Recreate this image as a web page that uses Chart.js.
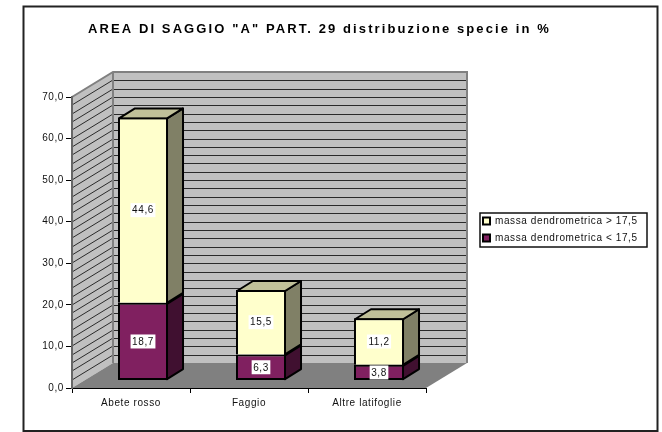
<!DOCTYPE html>
<html><head><meta charset="utf-8">
<style>html,body{margin:0;padding:0;background:#fff}canvas{display:block}</style>
<script src="https://cdn.jsdelivr.net/npm/chart.js@4/dist/chart.umd.min.js"></script>
</head><body><canvas id="c" width="662" height="432"></canvas>
<script>
const categories = ['Abete rosso', 'Faggio', 'Altre latifoglie'];
const seriesLow = [18.7, 6.3, 3.8];
const seriesHigh = [44.6, 15.5, 11.2];
const seriesNames = ['massa dendrometrica < 17,5', 'massa dendrometrica > 17,5'];
const titleText = 'AREA DI SAGGIO "A" PART. 29 distribuzione specie in %';
const comma = v => Number(v).toFixed(1).replace('.', ',');

const WALL = {dx: 41, dy: -25};
const BAR = {dx: 16, dy: -10, shiftX: 12, shiftY: -7.4};

const scene = {
  id: 'scene',
  beforeDraw(chart) {
    const {ctx, scales: {x, y}} = chart;
    ctx.letterSpacing = '0.6px';
    const L = x.left, R = x.right, B = y.bottom, T = y.top;
    ctx.save();
    ctx.fillStyle = '#fff'; ctx.fillRect(0, 0, 662, 432);
    ctx.strokeStyle = '#222'; ctx.lineWidth = 2;
    ctx.strokeRect(23.5, 6.5, 634, 424.5);
    // side wall
    ctx.fillStyle = '#C0C0C0';
    ctx.beginPath(); ctx.moveTo(L, T); ctx.lineTo(L + WALL.dx, T + WALL.dy); ctx.lineTo(L + WALL.dx, B + WALL.dy); ctx.lineTo(L, B); ctx.closePath(); ctx.fill();
    // back wall
    ctx.fillRect(L + WALL.dx, T + WALL.dy, R - L, B - T);
    // floor
    ctx.fillStyle = '#808080';
    ctx.beginPath(); ctx.moveTo(L, B); ctx.lineTo(R, B); ctx.lineTo(R + WALL.dx, B + WALL.dy); ctx.lineTo(L + WALL.dx, B + WALL.dy); ctx.closePath(); ctx.fill();
    // grid lines
    ctx.strokeStyle = '#2a2a2a'; ctx.lineWidth = 1;
    for (let v = 2; v < 70; v += 2) {
      const py = Math.round(y.getPixelForValue(v));
      ctx.beginPath();
      ctx.moveTo(L, py); ctx.lineTo(L + WALL.dx, py + WALL.dy);
      ctx.moveTo(L + WALL.dx, py + WALL.dy + .5); ctx.lineTo(R + WALL.dx, py + WALL.dy + .5);
      ctx.stroke();
    }
    // wall edges
    ctx.strokeStyle = '#808080'; ctx.lineWidth = 2;
    ctx.beginPath();
    ctx.moveTo(L, T); ctx.lineTo(L + WALL.dx, T + WALL.dy); ctx.lineTo(R + WALL.dx, T + WALL.dy); ctx.lineTo(R + WALL.dx, B + WALL.dy);
    ctx.moveTo(L + WALL.dx, T + WALL.dy); ctx.lineTo(L + WALL.dx, B + WALL.dy);
    ctx.stroke();
    // legend frame
    ctx.fillStyle = '#fff'; ctx.fillRect(480, 213, 167, 34);
    ctx.strokeStyle = '#111'; ctx.lineWidth = 1.5; ctx.strokeRect(480, 213, 167, 34);
    ctx.restore();
  },
  beforeDatasetsDraw(chart) {
    const {ctx} = chart;
    ctx.save();
    ctx.translate(BAR.shiftX, BAR.shiftY);
    ctx.strokeStyle = '#000'; ctx.lineWidth = 2; ctx.lineJoin = 'round';
    chart.data.datasets.forEach((ds, di) => {
      chart.getDatasetMeta(di).data.forEach(el => {
        const p = el.getProps(['x', 'y', 'base', 'width'], true);
        const r = p.x + p.width / 2 - 1, l = p.x - p.width / 2 + 1, ty = p.y + 1, by = p.base - (di === 0 ? 1 : 0);
        ctx.fillStyle = ds.sideColor;
        ctx.beginPath(); ctx.moveTo(r, ty); ctx.lineTo(r + BAR.dx, ty + BAR.dy); ctx.lineTo(r + BAR.dx, by + BAR.dy); ctx.lineTo(r, by); ctx.closePath(); ctx.fill(); ctx.stroke();
        if (di === chart.data.datasets.length - 1) {
          ctx.fillStyle = ds.topColor;
          ctx.beginPath(); ctx.moveTo(l, ty); ctx.lineTo(l + BAR.dx, ty + BAR.dy); ctx.lineTo(r + BAR.dx, ty + BAR.dy); ctx.lineTo(r, ty); ctx.closePath(); ctx.fill(); ctx.stroke();
        }
      });
    });
  },
  afterDatasetsDraw(chart) {
    const {ctx} = chart;
    ctx.font = '10px "Liberation Sans"';
    ctx.textAlign = 'center'; ctx.textBaseline = 'middle';
    chart.data.datasets.forEach((ds, di) => {
      chart.getDatasetMeta(di).data.forEach((el, i) => {
        const p = el.getProps(['x', 'y', 'base'], true);
        const cy = (p.y + p.base) / 2, t = comma(ds.data[i]);
        const w = ctx.measureText(t).width + 3;
        ctx.fillStyle = '#fff'; ctx.fillRect(p.x - w / 2, cy - 7, w, 14);
        ctx.fillStyle = '#111'; ctx.fillText(t, p.x, cy + .5);
      });
    });
    ctx.restore();
  },
  afterLayout(chart) {
    const lg = chart.legend, tb = chart.titleBlock;
    const w = lg.right - lg.left, h = lg.bottom - lg.top;
    lg.left = 476; lg.right = 476 + w; lg.top = 209; lg.bottom = 209 + h;
    tb.left = 88; tb.right = 640; tb.width = 552; tb.top = 23; tb.bottom = 36;
    if (!tb._spaced) {
      const d = tb.draw;
      tb.draw = function () {
        const c = chart.ctx, old = c.letterSpacing;
        c.letterSpacing = '2.1px'; d.call(this); c.letterSpacing = old;
      };
      tb._spaced = true;
    }
  }
};

new Chart(document.getElementById('c'), {
  type: 'bar',
  data: {
    labels: categories,
    datasets: [
      {label: seriesNames[0], data: seriesLow, backgroundColor: '#802060', borderColor: '#000', borderWidth: 2, borderSkipped: false, sideColor: '#401030', topColor: '#802060'},
      {label: seriesNames[1], data: seriesHigh, backgroundColor: '#FFFFCC', borderColor: '#000', borderWidth: 2, sideColor: '#808066', topColor: '#C0C099'}
    ]
  },
  options: {
    responsive: false, animation: false, events: [],
    layout: {padding: {left: 0, top: 84, right: 236, bottom: 0}},
    datasets: {bar: {categoryPercentage: 1, barPercentage: 0.424, clip: false}},
    plugins: {
      tooltip: {enabled: false},
      title: {display: true, text: titleText, align: 'start', color: '#000', padding: 0, font: {family: '"Liberation Sans"', size: 13, weight: 'bold', lineHeight: 1}},
      legend: {position: 'chartArea', align: 'start', reverse: true, padding: 0,
        labels: {boxWidth: 7, boxHeight: 7, padding: 7, color: '#111', font: {family: '"Liberation Sans"', size: 10}}}
    },
    scales: {
      x: {stacked: true, afterFit(s) { s.height = 44; },
        grid: {drawOnChartArea: false, drawTicks: true, tickLength: 5, color: '#000'},
        border: {color: '#000', width: 1},
        ticks: {color: '#111', padding: 4, maxRotation: 0, font: {family: '"Liberation Sans"', size: 10}}},
      y: {stacked: true, min: 0, max: 70, afterFit(s) { s.width = 72; },
        grid: {drawOnChartArea: false, drawTicks: true, tickLength: 6, color: '#000'},
        border: {color: '#666', width: 2},
        ticks: {stepSize: 10, color: '#111', padding: 2, font: {family: '"Liberation Sans"', size: 10}, callback: v => comma(v)}}
    }
  },
  plugins: [scene]
});
</script></body></html>
